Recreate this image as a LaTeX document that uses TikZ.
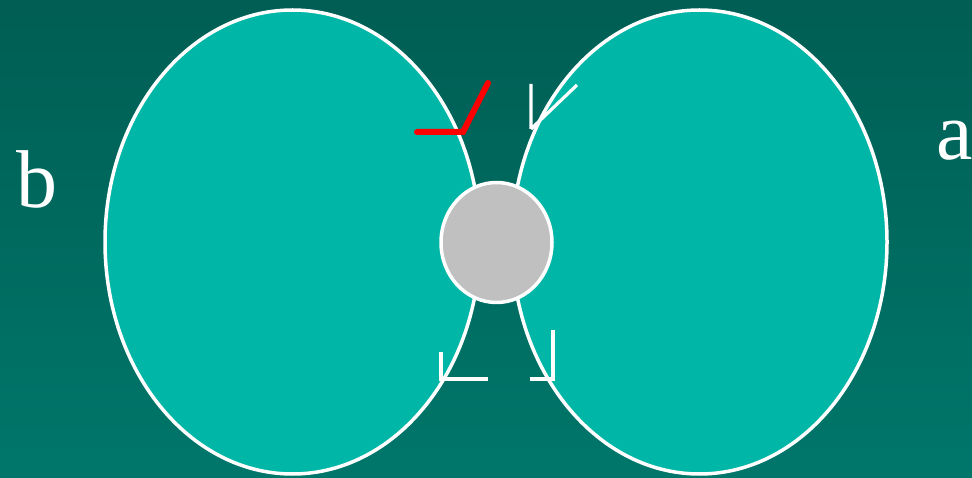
\documentclass[tikz,border=0pt]{standalone}
\usepackage{fontspec}
\usetikzlibrary{shapes.geometric}
\newfontfamily\lblfont{Liberation Serif}[Ligatures=TeX]
\definecolor{bgtop}{RGB}{0,94,84}
\definecolor{bgbot}{RGB}{0,118,106}
\definecolor{lobe}{RGB}{0,182,166}
\definecolor{hub}{RGB}{192,192,192}
\begin{document}
\begin{tikzpicture}[x=1pt,y=-1pt,
  lobestyle/.style={draw=white,line width=3.5pt,fill=lobe,line join=round},
  lbl/.style={text=white,font=\fontsize{82}{90}\lblfont,inner sep=0pt,anchor=base west},
  tick/.style={draw=white,line width=3.2pt},
  redtick/.style={draw=red,line width=6pt,line cap=round}]
\shade[top color=bgtop,bottom color=bgbot] (0,0) rectangle (972,478);
\useasboundingbox (0,0) rectangle (972,478);
\path[lobestyle] (292.5,242) ellipse [x radius=187.5,y radius=232];
\path[lobestyle] (699.5,242) ellipse [x radius=187.5,y radius=232];
\node[draw=white,line width=3.5pt,line join=round,fill=hub,ellipse,minimum width=111pt,minimum height=120pt,inner sep=0pt] (hub) at (496.5,242.5) {};
\node[lbl] (b) at (16,208) {b};
\node[lbl] (a) at (936,160) {a};
\coordinate (r1) at (417,132);
\coordinate (r2) at (463,132);
\coordinate (r3) at (488,83);
\draw[redtick] (r1) -- (r2) -- (r3);
\coordinate (w1) at (531,84);
\coordinate (w2) at (531,129);
\coordinate (w3) at (577,85);
\draw[tick] (w1) -- (w2) (w3) -- (w2);
\coordinate (l1) at (441,352);
\coordinate (l2) at (441,379);
\coordinate (l3) at (488,379);
\draw[tick] (l1) -- (l2) -- (l3);
\coordinate (q1) at (530,379);
\coordinate (q2) at (553,379);
\coordinate (q3) at (553,330);
\draw[tick] (q1) -- (q2) -- (q3);
\end{tikzpicture}
\end{document}
